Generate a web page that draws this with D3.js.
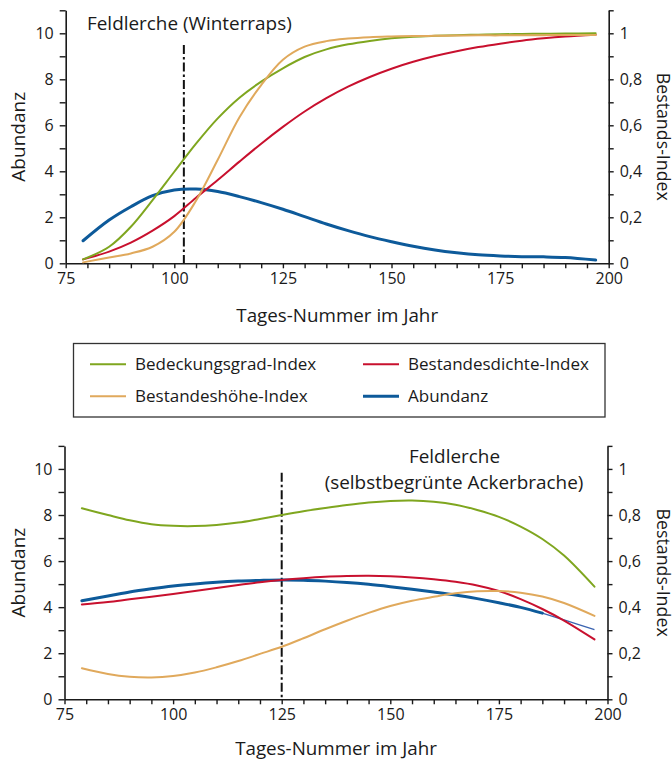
<!DOCTYPE html>
<html><head><meta charset="utf-8">
<script src="https://cdn.jsdelivr.net/npm/d3@7"></script>
<style>
html,body{margin:0;padding:0;background:#fff;}
svg text{font-family:"Open Sans",sans-serif;fill:#1a1a1a;}
</style></head>
<body>
<svg id="chart" width="672" height="759"></svg>
<script>
// ---- data ----
const days = [79,85,90,95,100,105,110,115,120,125,130,135,140,145,150,155,160,165,170,175,180,185,190,197];

// Panel 1: Feldlerche (Winterraps)
const rapsBedeckung = [0.17,0.72,1.59,2.75,3.98,5.2,6.3,7.2,7.9,8.48,8.97,9.3,9.52,9.67,9.78,9.85,9.89,9.92,9.94,9.96,9.97,9.98,9.99,10.0];
const rapsDichte    = [0.17,0.51,0.9,1.42,2.05,2.85,3.62,4.42,5.2,5.93,6.6,7.18,7.68,8.1,8.46,8.76,9.01,9.22,9.4,9.55,9.68,9.78,9.86,9.94];
const rapsHoehe     = [0.04,0.25,0.43,0.72,1.37,2.72,4.5,6.35,7.75,8.85,9.42,9.66,9.77,9.83,9.86,9.88,9.89,9.90,9.91,9.91,9.92,9.92,9.93,9.93];
const rapsAbundanz  = [0.98,1.88,2.46,2.94,3.19,3.23,3.12,2.9,2.64,2.35,2.03,1.71,1.42,1.16,0.94,0.74,0.58,0.46,0.37,0.32,0.29,0.28,0.25,0.14];
const rapsMarker = 102.2;

// Panel 2: Feldlerche (selbstbegrünte Ackerbrache)
const bracheBedeckung = [8.29,8.0,7.77,7.6,7.53,7.52,7.57,7.67,7.83,8.0,8.16,8.3,8.43,8.54,8.61,8.63,8.58,8.45,8.22,7.92,7.5,6.96,6.24,4.89];
const bracheDichte    = [4.12,4.22,4.34,4.45,4.57,4.70,4.83,4.96,5.08,5.18,5.26,5.32,5.35,5.36,5.34,5.29,5.21,5.10,4.94,4.7,4.35,3.92,3.42,2.6];
const bracheHoehe     = [1.35,1.10,0.98,0.95,1.01,1.16,1.39,1.66,1.97,2.28,2.65,3.04,3.41,3.75,4.05,4.28,4.45,4.60,4.69,4.70,4.63,4.46,4.18,3.62];
const bracheAbundanz  = [4.28,4.48,4.66,4.80,4.92,5.01,5.08,5.13,5.16,5.18,5.17,5.13,5.07,4.99,4.89,4.78,4.66,4.53,4.37,4.19,3.99,3.74,3.45,3.02];
const bracheMarker = 125;
const bracheThickEnd = 185;

// axes
const xTicks = [75,80,85,90,95,100,105,110,115,120,125,130,135,140,145,150,155,160,165,170,175,180,185,190,195,200];
const xLabels = [75,100,125,150,175,200];
const yTicks = [0,1,2,3,4,5,6,7,8,9,10,11];
const yLabels = [0,2,4,6,8,10];
const y2Ticks = [0,0.1,0.2,0.3,0.4,0.5,0.6,0.7,0.8,0.9,1.0,1.1];
const y2Labels = ["0","0,2","0,4","0,6","0,8","1"];

const seriesNames = ["Bedeckungsgrad-Index","Bestandesdichte-Index","Bestandeshöhe-Index","Abundanz"];
const colors = {bed:"#7fa61f", dic:"#c8102e", hoe:"#e0a95c", abu:"#0d5a9a"};

const svg = d3.select("#chart");

function panel(cfg){
  const x = d3.scaleLinear().domain([75,200]).range([cfg.x0,cfg.x1]);
  const y = d3.scaleLinear().domain([0,11]).range([cfg.y0,cfg.yTop]);
  const y2 = d3.scaleLinear().domain([0,1.1]).range([cfg.y0,cfg.yTop]);
  const g = svg.append("g");

  const xa = d3.axisBottom(x).tickValues(xTicks).tickSize(5).tickSizeOuter(0)
    .tickFormat(d => xLabels.includes(d) ? d : "");
  const gx = g.append("g").attr("transform",`translate(0,${cfg.y0})`).call(xa);
  const ya = d3.axisLeft(y).tickValues(yTicks).tickSize(6).tickSizeOuter(0)
    .tickFormat(d => yLabels.includes(d) ? d : "");
  const gy = g.append("g").attr("transform",`translate(${cfg.x0},0)`).call(ya);
  const y2a = d3.axisRight(y2).tickValues(y2Ticks).tickSize(5).tickSizeOuter(0)
    .tickFormat((d,i) => (i%2===0 && i<=10) ? y2Labels[i/2] : "");
  const gy2 = g.append("g").attr("transform",`translate(${cfg.x1},0)`).call(y2a);
  [gx,gy,gy2].forEach(a=>{
    a.selectAll("path.domain").attr("stroke","#1a1a1a").attr("stroke-width",1.6);
    a.selectAll(".tick line").attr("stroke","#1a1a1a").attr("stroke-width",1.4);
    a.selectAll(".tick text").style("font-family",'"Open Sans",sans-serif').style("font-size","16px").attr("fill","#1a1a1a");
  });
  gx.selectAll(".tick text").attr("dy","0.95em").attr("y",6);
  gy.selectAll(".tick text").attr("x",-12);
  gy2.selectAll(".tick text").attr("x",11);

  g.append("line").attr("x1",x(cfg.marker)).attr("x2",x(cfg.marker))
    .attr("y1",cfg.markerTop).attr("y2",cfg.y0)
    .attr("stroke","#111").attr("stroke-width",2).attr("stroke-dasharray","9,3,2.5,3");

  const curve = d3.curveCatmullRom.alpha(0.5);
  const line = d3.line().x((d,i)=>x(days[i])).y(d=>y(d)).curve(curve);
  const lineXY = d3.line().x(d=>x(d[0])).y(d=>y(d[1])).curve(curve);
  const draw = (vals,col,w) => g.append("path").attr("d",line(vals)).attr("fill","none")
    .attr("stroke",col).attr("stroke-width",w).attr("stroke-linecap","round");

  if(cfg.thickEnd){
    const pts = days.map((d,i)=>[d,cfg.abu[i]]);
    g.append("path").attr("d",lineXY(pts.filter(p=>p[0]>=cfg.thickEnd))).attr("fill","none")
      .attr("stroke","#3a63b0").attr("stroke-width",1.3);
    g.append("path").attr("d",lineXY(pts.filter(p=>p[0]<=cfg.thickEnd))).attr("fill","none")
      .attr("stroke",colors.abu).attr("stroke-width",3).attr("stroke-linecap","round");
  } else {
    draw(cfg.abu,colors.abu,3);
  }
  draw(cfg.dic,colors.dic,2);
  draw(cfg.bed,colors.bed,2);
  draw(cfg.hoe,colors.hoe,2);

  const mid = (cfg.y0+cfg.yTop)/2;
  g.append("text").attr("transform",`translate(24.5,${mid}) rotate(-90)`).attr("text-anchor","middle")
    .style("font-size","19px").text("Abundanz");
  g.append("text").attr("transform",`translate(657,${mid}) rotate(90)`).attr("text-anchor","middle")
    .style("font-size","17.8px").text("Bestands-Index");
  g.append("text").attr("x",(cfg.x0+cfg.x1)/2).attr("y",cfg.y0+cfg.xlabDy).attr("text-anchor","middle")
    .style("font-size","18.8px").text("Tages-Nummer im Jahr");
  cfg.title.forEach(t=>{
    g.append("text").attr("x",t.x).attr("y",t.y).attr("text-anchor",t.anchor)
      .style("font-size","18.9px").text(t.text);
  });
}

panel({x0:65.7,x1:608.7,y0:263.3,yTop:10.3,marker:rapsMarker,markerTop:45,xlabDy:59,
  bed:rapsBedeckung,dic:rapsDichte,hoe:rapsHoehe,abu:rapsAbundanz,
  title:[{text:"Feldlerche (Winterraps)",x:87,y:30,anchor:"start"}]});

panel({x0:64.5,x1:607.5,y0:699.3,yTop:445.9,marker:bracheMarker,markerTop:472.7,thickEnd:bracheThickEnd,xlabDy:56,
  bed:bracheBedeckung,dic:bracheDichte,hoe:bracheHoehe,abu:bracheAbundanz,
  title:[{text:"Feldlerche",x:454.5,y:463,anchor:"middle"},{text:"(selbstbegrünte Ackerbrache)",x:454,y:489,anchor:"middle"}]});

// legend
const lg = svg.append("g");
lg.append("rect").attr("x",73.5).attr("y",343.5).attr("width",531.5).attr("height",73.5)
  .attr("fill","none").attr("stroke","#333").attr("stroke-width",1.3);
const legItems = [
  {name:seriesNames[0],col:colors.bed,w:2,cx:90,cy:364.3},
  {name:seriesNames[1],col:colors.dic,w:2,cx:363,cy:364.3},
  {name:seriesNames[2],col:colors.hoe,w:2,cx:90,cy:396.3},
  {name:seriesNames[3],col:colors.abu,w:3,cx:363,cy:396.3}
];
legItems.forEach(it=>{
  lg.append("line").attr("x1",it.cx).attr("x2",it.cx+36).attr("y1",it.cy).attr("y2",it.cy)
    .attr("stroke",it.col).attr("stroke-width",it.w);
  lg.append("text").attr("x",it.cx+45).attr("y",it.cy+5.8).style("font-size","17px").text(it.name);
});
</script>
</body></html>
